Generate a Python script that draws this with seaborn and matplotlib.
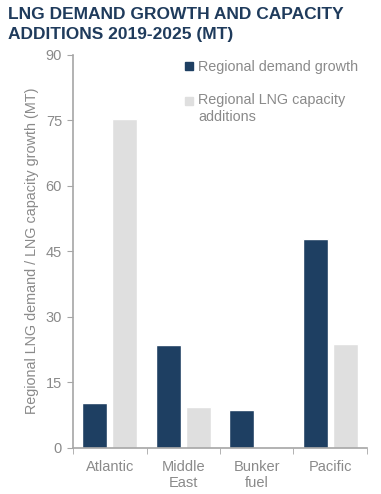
import pandas as pd
import seaborn as sns
import matplotlib.pyplot as plt
from matplotlib.lines import Line2D
from matplotlib.legend_handler import HandlerLine2D

# data (MT)
regions = ["Atlantic", "Middle\nEast", "Bunker\nfuel", "Pacific"]
demand_growth = [10.2, 23.4, 8.6, 47.8]
capacity_additions = [75.3, 9.4, 0.0, 23.7]
series_names = ["Regional demand growth", "Regional LNG capacity\nadditions"]
y_ticks = [0, 15, 30, 45, 60, 75, 90]

dark = "#1e3f62"
light = "#dfdfdf"
grey_txt = "#8a8a8a"
grey_axis = "#a6a6a6"


# legend marker next to the first line of a wrapped label
class TopMarker(HandlerLine2D):
    def __init__(self, shift, **kw):
        super().__init__(**kw)
        self.shift = shift

    def create_artists(self, legend, orig_handle, xdescent, ydescent,
                       width, height, fontsize, trans):
        return super().create_artists(legend, orig_handle, xdescent,
                                      ydescent - self.shift, width, height,
                                      fontsize, trans)


df = pd.DataFrame({
    "region": regions * 2,
    "value": demand_growth + capacity_additions,
    "series": [series_names[0]] * 4 + [series_names[1]] * 4,
})

sns.set_style("white")
plt.rcParams["font.family"] = ["Liberation Sans", "DejaVu Sans"]

fig = plt.figure(figsize=(3.81, 4.94), dpi=100)
ax = fig.add_axes([0.192, 0.094, 0.771, 0.795])

sns.barplot(data=df, x="region", y="value", hue="series", order=regions,
            hue_order=series_names, palette=[dark, light],
            width=0.82, gap=0.17, saturation=1, legend=False, ax=ax)

ax.set_ylim(0, 90)
ax.set_xlim(-0.5, 3.5)
ax.set_yticks(y_ticks)
ax.set_xticks(range(len(regions)))
ax.set_xticklabels(regions)
ax.set_xticks([i - 0.5 for i in range(len(regions) + 1)], minor=True)
ax.tick_params(axis="x", which="major", length=0, pad=9, labelsize=10.5, labelcolor=grey_txt)
ax.tick_params(axis="x", which="minor", length=4, color=grey_axis, direction="out", bottom=True)
ax.tick_params(axis="y", length=4, color=grey_axis, direction="out", left=True,
               labelsize=10.5, labelcolor=grey_txt, pad=4)
for s in ["top", "right"]:
    ax.spines[s].set_visible(False)
for s in ["left", "bottom"]:
    ax.spines[s].set_color(grey_axis)
    ax.spines[s].set_linewidth(1.2)

ax.set_xlabel("")
ax.set_ylabel("Regional LNG demand / LNG capacity growth (MT)", color=grey_txt,
              fontsize=10.4, labelpad=5)

handles = [Line2D([], [], marker="s", linestyle="", markersize=6, color=c) for c in (dark, light)]
leg = ax.legend(handles, series_names, loc="upper left", bbox_to_anchor=(0.335, 1.02),
                frameon=False, handlelength=0.6, handletextpad=0.35, labelspacing=1.35,
                fontsize=10.4,
                handler_map={handles[1]: TopMarker(12), handles[0]: HandlerLine2D()})
for t in leg.get_texts():
    t.set_color(grey_txt)

fig.text(0.022, 0.985, "LNG DEMAND GROWTH AND CAPACITY\nADDITIONS 2019-2025 (MT)",
         ha="left", va="top", fontsize=12.5, fontweight="bold", color="#1f3b5c",
         linespacing=1.35)

fig.savefig("out.png", dpi=100)
